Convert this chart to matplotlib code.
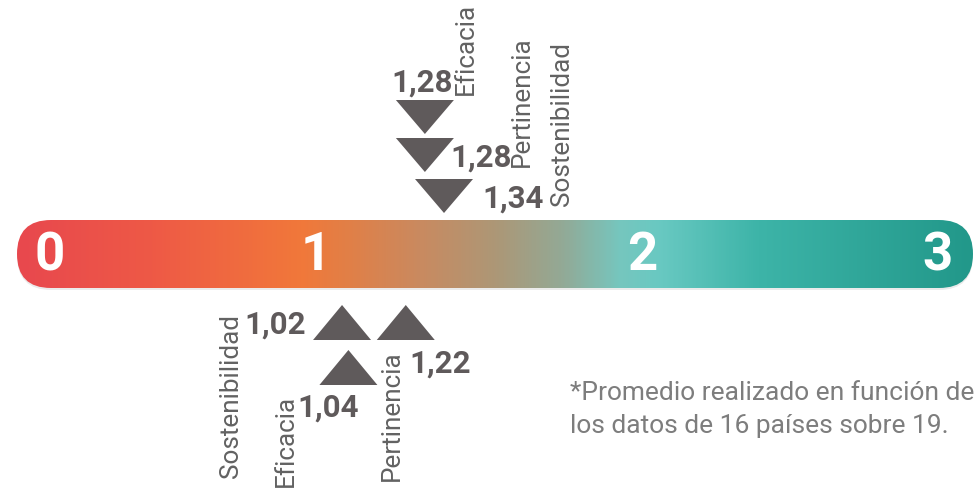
import numpy as np
import matplotlib.pyplot as plt
from matplotlib.colors import LinearSegmentedColormap
from matplotlib.patches import FancyBboxPatch, Polygon

plt.rcParams['font.family'] = ['Roboto', 'DejaVu Sans']

# data
scale_values = [0, 1, 2, 3]
top_labels = ["Eficacia", "Pertinencia", "Sostenibilidad"]
top_values = [1.28, 1.28, 1.34]
bottom_labels = ["Sostenibilidad", "Eficacia", "Pertinencia"]
bottom_values = [1.02, 1.04, 1.22]
note_lines = ["*Promedio realizado en función de", "los datos de 16 países sobre 19."]

W, H = 978, 491
fig = plt.figure(figsize=(W / 100, H / 100), dpi=100)
ax = fig.add_axes([0, 0, 1, 1])

# x in scale units, y in pixels from the top
bar_left, bar_right = 17, 973
ppu = (bar_right - bar_left) / (scale_values[-1] - scale_values[0])
ax.set_xlim(scale_values[0] - bar_left / ppu, scale_values[0] + (W - bar_left) / ppu)
ax.set_ylim(H, 0)
ax.axis('off')


def fmt(v):
    return f"{v:.2f}".replace(".", ",")


# gradient bar
bar_top, bar_bot = 220, 288
stops = [(17, '#e8484e'), (150, '#ee5946'), (300, '#f1783a'), (345, '#e27f46'),
         (420, '#c98a60'), (500, '#ab9878'), (565, '#92aa97'), (620, '#76c6be'),
         (660, '#69c9c2'), (760, '#3db4a8'), (973, '#22988a')]
cmap = LinearSegmentedColormap.from_list(
    'bar', [((p - 17) / (973 - 17), c) for p, c in stops])
x0, x1 = scale_values[0], scale_values[-1]
grad = np.linspace(0, 1, 600).reshape(1, -1)
rad = (bar_bot - bar_top) / 2
style = "round,pad=0,rounding_size=%f" % (rad / ppu)
shadow = FancyBboxPatch((x0, bar_top + 2), x1 - x0, bar_bot - bar_top, boxstyle=style,
                        mutation_aspect=ppu, fc='#000000', ec='none', alpha=0.08, zorder=1)
ax.add_patch(shadow)
box = FancyBboxPatch((x0, bar_top), x1 - x0, bar_bot - bar_top, boxstyle=style,
                     mutation_aspect=ppu, fc='none', ec='none', zorder=2)
ax.add_patch(box)
img = ax.imshow(grad, cmap=cmap, extent=(x0, x1, bar_bot, bar_top),
                aspect='auto', zorder=2, interpolation='bicubic')
img.set_clip_path(box)

# scale digits (nudged inside the rounded ends like the original)
digit_nudge = [33, -20, -12, -35]
for v, dx in zip(scale_values, digit_nudge):
    ax.annotate(str(v), xy=(v, 256), xytext=(dx, 0), textcoords='offset pixels',
                ha='center', va='center', color='white', fontsize=38,
                fontweight='bold', zorder=3)

tri_col = '#5f5a5b'
num_col = '#5f5a5b'
name_col = '#626262'
hw = 29 / ppu
num_size = 22.5
name_size = 18.8

# markers above the bar (pointing down)
top_tip = [134, 172, 213]
top_num = [(-3, 92, 'center'), (25, 167, 'left'), (38, 208, 'left')]
top_name = [(41, 95), (97, 167), (118, 206)]
for lab, v, ty, (ndx, ny, nha), (tdx, tyb) in zip(top_labels, top_values, top_tip,
                                                  top_num, top_name):
    ax.add_patch(Polygon([(v - hw, ty - 34), (v + hw, ty - 34), (v, ty)],
                         closed=True, fc=tri_col, ec='none', zorder=3))
    ax.annotate(fmt(v), xy=(v, ny), xytext=(ndx, 0), textcoords='offset pixels',
                ha=nha, va='baseline', color=num_col, fontsize=num_size, fontweight='bold')
    ax.annotate(lab, xy=(v, tyb), xytext=(tdx, 0), textcoords='offset pixels',
                ha='center', va='bottom', rotation=90, color=name_col,
                fontsize=name_size)

# markers below the bar (pointing up)
bot_tip = [305, 350, 305]
bot_num = [(-36, 334, 'right'), (10, 417, 'right'), (4, 373, 'left')]
bot_name = [(-111, 314), (-63, 395), (-14, 350)]
for lab, v, ty, (ndx, ny, nha), (tdx, tyt) in zip(bottom_labels, bottom_values, bot_tip,
                                                  bot_num, bot_name):
    ax.add_patch(Polygon([(v - hw, ty + 35), (v + hw, ty + 35), (v, ty)],
                         closed=True, fc=tri_col, ec='none', zorder=3))
    ax.annotate(fmt(v), xy=(v, ny), xytext=(ndx, 0), textcoords='offset pixels',
                ha=nha, va='baseline', color=num_col, fontsize=num_size, fontweight='bold')
    ax.annotate(lab, xy=(v, tyt), xytext=(tdx, 0), textcoords='offset pixels',
                ha='center', va='top', rotation=90, color=name_col,
                fontsize=name_size)

# footnote
for i, line in enumerate(note_lines):
    fig.text(570 / W, 1 - (400 + 33 * i) / H, line, ha='left', va='baseline',
             color='#7d7d7d', fontsize=19)

fig.savefig('out.png', dpi=100)
